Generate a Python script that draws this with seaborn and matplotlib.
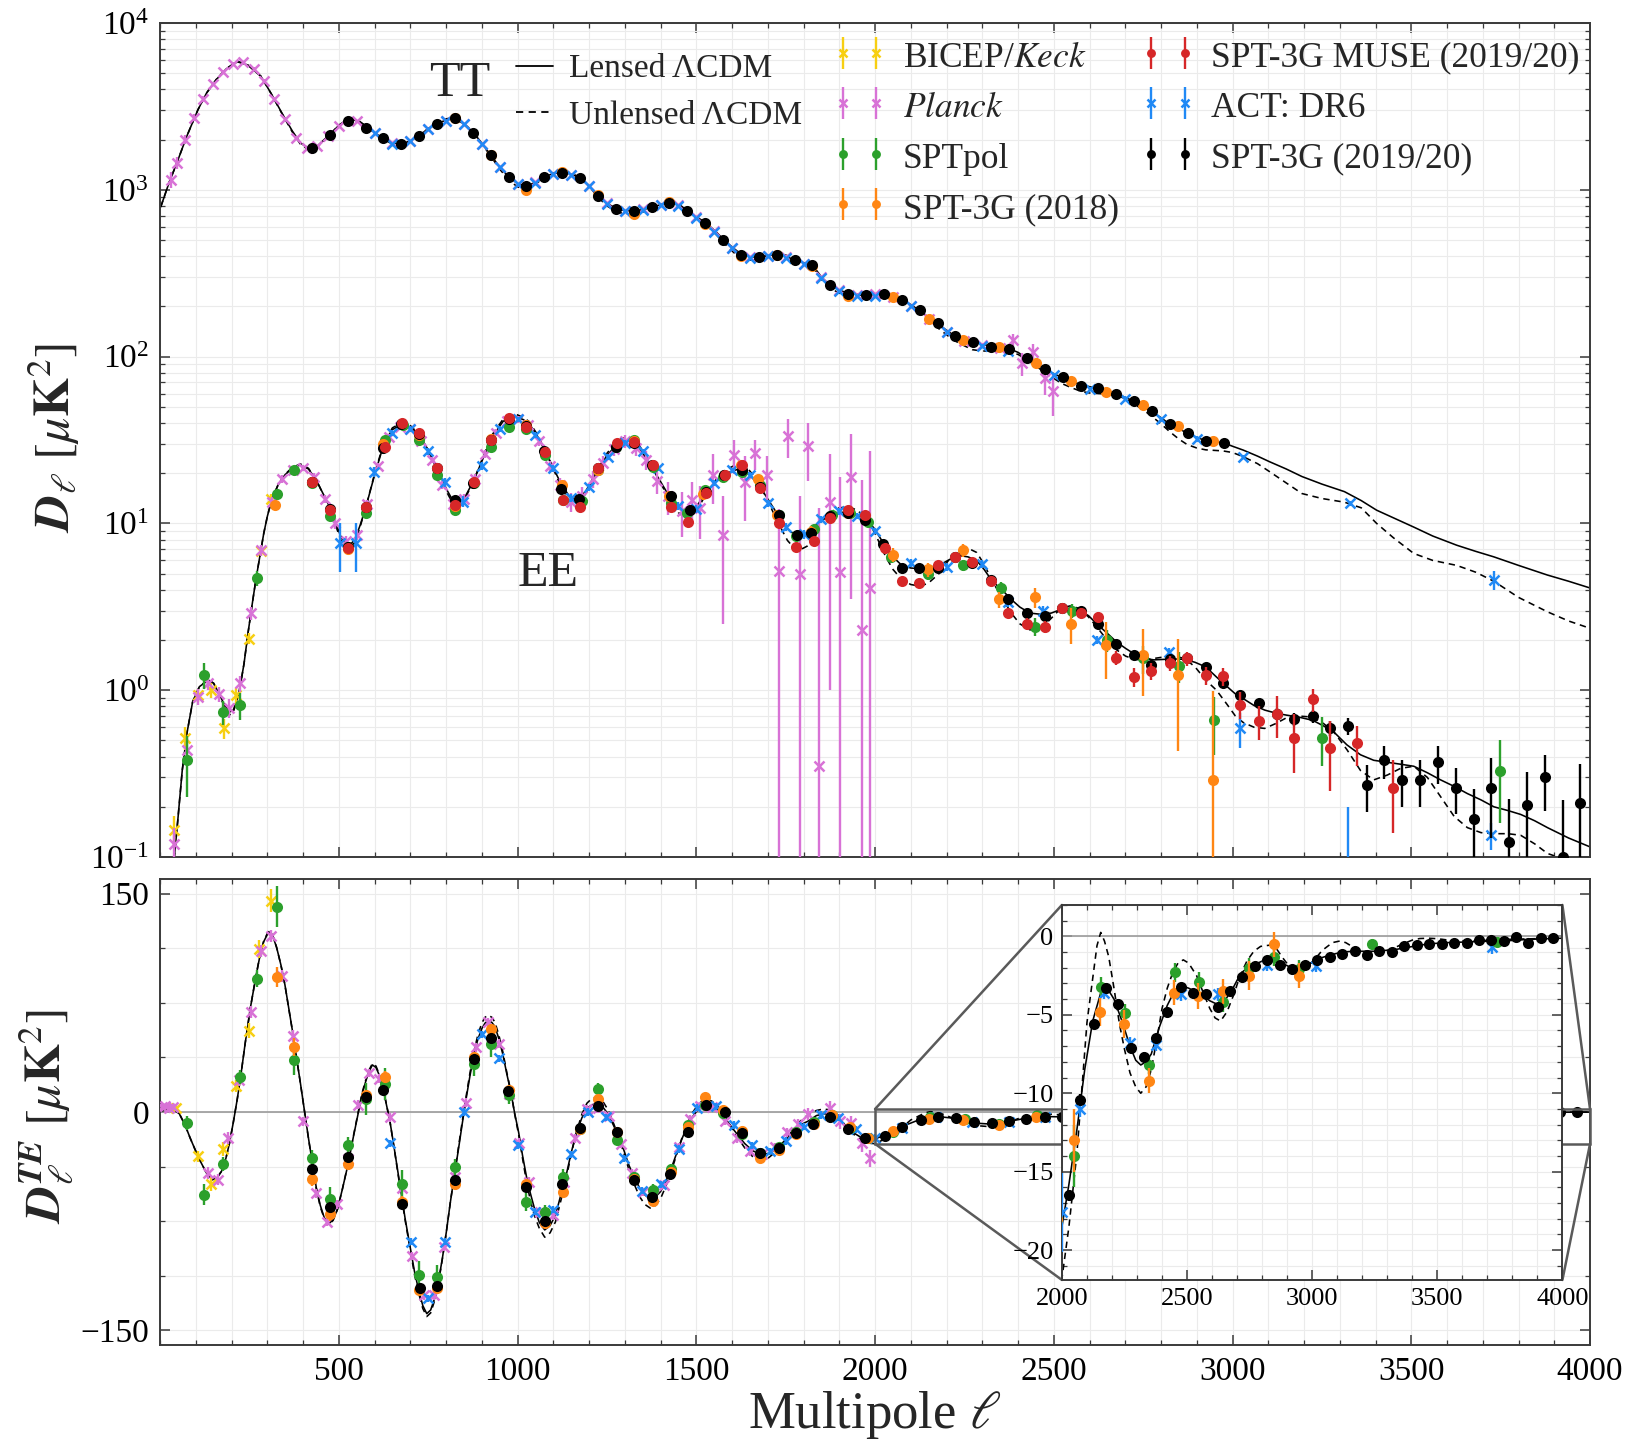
import matplotlib
matplotlib.use("Agg")
import matplotlib.pyplot as plt
import seaborn as sns
from matplotlib.lines import Line2D
from matplotlib.patches import Rectangle, ConnectionPatch
from matplotlib.ticker import MultipleLocator, LogLocator, NullFormatter, FixedLocator
from matplotlib.legend_handler import HandlerErrorbar
from matplotlib.container import ErrorbarContainer

# ---------------------------------------------------------------- theory: TT
tt_ell = [2, 25, 47, 75, 106, 130, 157, 185, 216, 245,
          282, 310, 341, 370, 393, 415, 440, 474, 500, 529,
          555, 576, 600, 628, 650, 672, 700, 724, 750, 775,
          800, 819, 845, 878, 900, 925, 950, 976, 1000, 1025,
          1050, 1076, 1100, 1128, 1150, 1176, 1200, 1226, 1250, 1279,
          1300, 1326, 1350, 1378, 1400, 1429, 1450, 1476, 1500, 1528,
          1555, 1579, 1605, 1628, 1655, 1679, 1705, 1731, 1755, 1779,
          1800, 1826, 1850, 1873, 1900, 1925, 1950, 1973, 2000, 2022,
          2050, 2075, 2100, 2122, 2150, 2173, 2200, 2224, 2250, 2272,
          2300, 2324, 2350, 2373, 2400, 2424, 2450, 2475, 2500, 2522,
          2550, 2575, 2600, 2624, 2650, 2675, 2700, 2724, 2750, 2773,
          2800, 2824, 2850, 2873, 2900, 2925, 2950, 2973, 3000, 3030,
          3070, 3104, 3150, 3194, 3250, 3313, 3360, 3403, 3450, 3507,
          3560, 3627, 3680, 3731, 3800, 3881, 3940, 4000]
tt_lensed = [790, 1100, 1450, 2100, 3020, 3800, 4570, 5300, 5850, 5600,
             4790, 3800, 2880, 2250, 1905, 1780, 1830, 2140, 2430, 2650,
             2580, 2400, 2200, 2010, 1910, 1880, 1960, 2110, 2320, 2490,
             2620, 2660, 2520, 2190, 1900, 1615, 1370, 1190, 1090, 1050,
             1110, 1200, 1250, 1270, 1240, 1175, 1060, 920, 830, 766,
             750, 748, 760, 787, 815, 835, 810, 741, 690, 631,
             560, 497, 445, 407, 395, 398, 405, 407, 395, 377,
             365, 352, 300, 269, 250, 240, 236, 234, 235, 237,
             232, 221, 205, 190, 172, 158, 144, 132, 127, 123,
             119, 115, 113, 112, 106, 98, 91, 84, 79, 75,
             71, 68, 66, 64, 62, 60, 57, 54, 50, 47,
             43, 39.4, 37, 34.7, 32.8, 31.3, 30.8, 30.5, 29, 27.5,
             25.3, 23.4, 21.2, 19.1, 17.2, 15.5, 13.7, 12.0, 10.8, 9.5,
             8.4, 7.4, 6.8, 6.3, 5.6, 4.9, 4.5, 4.1]
tt_unlensed = [790, 1100, 1450, 2100, 3020, 3800, 4580, 5320, 5900, 5620,
               4800, 3790, 2860, 2220, 1870, 1740, 1800, 2130, 2440, 2680,
               2600, 2410, 2190, 1990, 1880, 1840, 1930, 2100, 2330, 2520,
               2660, 2710, 2560, 2200, 1890, 1590, 1330, 1140, 1040, 1010,
               1080, 1190, 1260, 1295, 1260, 1180, 1050, 900, 800, 735,
               718, 718, 735, 775, 815, 850, 825, 745, 680, 615,
               540, 475, 420, 385, 378, 388, 405, 415, 403, 382,
               365, 345, 290, 258, 240, 232, 232, 236, 240, 243,
               236, 222, 202, 184, 165, 150, 135, 124, 116, 110,
               108, 108, 108, 107, 103, 96, 88, 80, 74, 69,
               65, 62, 60.5, 60, 59.5, 58.5, 56, 52, 48, 44,
               39.5, 35.5, 32, 29.7, 28.3, 27.6, 27.4, 27.2, 26.6, 25.1,
               22.8, 20.4, 17.5, 15.1, 14.1, 13.4, 12.4, 10.0, 8.2, 6.6,
               6.0, 5.6, 5.1, 4.5, 3.6, 2.95, 2.6, 2.35]

# ---------------------------------------------------------------- theory: EE
ee_ell = [30, 40, 50, 62, 75, 91, 110, 135, 150, 165, 180,
          194, 205, 215, 224, 235, 246, 257, 268, 280, 290,
          300, 312, 330, 349, 370, 393, 415, 437, 455, 474,
          490, 505, 525, 545, 560, 576, 600, 628, 650, 679,
          700, 724, 750, 775, 800, 826, 850, 878, 900, 929,
          960, 996, 1015, 1032, 1055, 1076, 1100, 1121, 1145, 1165,
          1190, 1224, 1250, 1268, 1290, 1312, 1340, 1371, 1400, 1422,
          1450, 1474, 1500, 1532, 1570, 1613, 1645, 1672, 1700, 1731,
          1755, 1782, 1810, 1851, 1890, 1925, 1950, 1978, 2000, 2030,
          2050, 2075, 2100, 2127, 2150, 2179, 2210, 2239, 2260, 2284,
          2305, 2328, 2355, 2381, 2405, 2433, 2465, 2493, 2520, 2545,
          2570, 2597, 2620, 2649, 2675, 2701, 2727, 2754, 2780, 2806,
          2836, 2866, 2895, 2925, 2955, 2985, 3008, 3030, 3060, 3090,
          3120, 3149, 3185, 3224, 3255, 3284, 3320, 3358, 3395, 3433,
          3470, 3507, 3545, 3582, 3620, 3657, 3695, 3731, 3770, 3806,
          3845, 3881, 3940, 4000]
ee_lensed = [0.045, 0.1, 0.17, 0.33, 0.55, 0.85, 1.05, 1.15, 1.1, 0.95, 0.82,
             0.74, 0.76, 0.88, 1.05, 1.45, 2.2, 3.2, 4.6, 6.5, 8.7,
             11.0, 13.8, 17.0, 19.5, 21.5, 22.4, 21.2, 18.2, 15.2, 12.6,
             10.2, 8.4, 7.2, 8.0, 9.8, 12.6, 19.5, 30.9, 36.5, 39.5,
             37.8, 33.9, 27.5, 21.4, 16.2, 12.9, 14.0, 18.2, 23.5, 33,
             41, 43.5, 42, 39.8, 33.5, 27.5, 21.5, 17.4, 14.5, 13.8,
             15.5, 20.9, 25.5, 28.2, 30.8, 31.6, 28.5, 22.4, 17.8, 14.8,
             12.6, 11.7, 12.6, 15.8, 19.5, 21.0, 19.8, 17.4, 14.0, 11.0,
             9.3, 8.3, 8.6, 10.7, 11.6, 11.7, 11.3, 10.5, 9.2, 7.2,
             6.3, 5.6, 5.4, 5.35, 5.45, 5.6, 6.1, 6.4, 6.3, 6.0,
             5.3, 4.5, 4.0, 3.5, 3.15, 2.9, 2.85, 2.9, 3.05, 3.1,
             3.0, 2.8, 2.5, 2.2, 1.95, 1.78, 1.64, 1.55, 1.52, 1.53,
             1.54, 1.53, 1.47, 1.38, 1.2, 1.05, 0.95, 0.89, 0.81, 0.76,
             0.73, 0.71, 0.69, 0.66, 0.61, 0.56, 0.47, 0.41, 0.38, 0.37,
             0.36, 0.35, 0.32, 0.29, 0.265, 0.24, 0.22, 0.20, 0.19, 0.18,
             0.165, 0.15, 0.13, 0.115]
ee_unlensed = [0.045, 0.1, 0.17, 0.33, 0.55, 0.85, 1.05, 1.16, 1.1, 0.94, 0.8,
               0.71, 0.74, 0.87, 1.05, 1.45, 2.2, 3.2, 4.6, 6.5, 8.7,
               11.0, 13.8, 17.0, 19.6, 21.7, 22.7, 21.4, 18.2, 15.1, 12.4,
               9.9, 8.0, 6.9, 7.7, 9.6, 12.6, 19.8, 31.5, 37.4, 40.5,
               38.6, 34.3, 27.5, 21.0, 15.7, 12.3, 13.6, 18.2, 24, 34,
               42.3, 45, 43.4, 40.8, 34.2, 27.6, 21.2, 16.7, 13.6, 13.0,
               15.0, 21.0, 26.3, 29.3, 32.2, 33, 29.5, 22.8, 17.5, 14.2,
               11.6, 10.6, 11.8, 15.6, 20.3, 22.6, 21.2, 18.0, 13.6, 9.9,
               7.9, 6.8, 7.3, 10.3, 12.3, 12.6, 12.0, 10.6, 8.7, 6.3,
               5.3, 4.6, 4.3, 4.2, 4.4, 5.0, 6.2, 7.0, 7.1, 6.7,
               5.7, 4.5, 3.6, 2.9, 2.5, 2.3, 2.35, 2.7, 3.1, 3.2,
               3.1, 2.75, 2.4, 2.0, 1.75, 1.6, 1.53, 1.52, 1.55, 1.58,
               1.6, 1.55, 1.38, 1.15, 1.0, 0.82, 0.7, 0.64, 0.6, 0.59,
               0.63, 0.68, 0.7, 0.69, 0.63, 0.56, 0.44, 0.33, 0.29, 0.31,
               0.34, 0.35, 0.3, 0.23, 0.175, 0.15, 0.14, 0.138, 0.138, 0.135,
               0.12, 0.105, 0.095, 0.09]

# ---------------------------------------------------------------- theory: TE
te_ell = [2, 15, 32, 54, 70, 84, 100, 113, 130, 147,
          160, 172, 184, 194, 205, 216, 227, 238, 253, 268,
          280, 290, 304, 315, 326, 338, 349, 360, 371, 382,
          393, 404, 415, 426, 437, 448, 459, 471, 484, 496,
          510, 525, 540, 554, 565, 576, 585, 594, 604, 613,
          628, 643, 657, 672, 686, 701, 712, 724, 735, 746,
          757, 768, 779, 790, 801, 812, 823, 834, 845, 856,
          867, 878, 889, 900, 909, 918, 928, 937, 948, 959,
          970, 981, 992, 1003, 1014, 1025, 1036, 1047, 1061, 1076,
          1091, 1106, 1120, 1135, 1150, 1165, 1180, 1194, 1209, 1224,
          1238, 1253, 1268, 1282, 1297, 1312, 1327, 1341, 1356, 1371,
          1385, 1400, 1414, 1429, 1444, 1459, 1474, 1488, 1506, 1525,
          1543, 1562, 1580, 1598, 1617, 1635, 1657, 1679, 1702, 1724,
          1746, 1768, 1790, 1812, 1836, 1855, 1873, 1896, 1918, 1941,
          1963, 1985, 2000, 2028, 2060, 2091, 2123, 2155, 2177, 2208,
          2240, 2272, 2295, 2315, 2336, 2357, 2389, 2421, 2443, 2464,
          2485, 2506, 2530, 2560, 2590, 2623, 2650, 2677, 2700, 2719,
          2750, 2783, 2826, 2850, 2879, 2910, 2943, 2970, 2996, 3030,
          3070, 3120, 3166, 3210, 3251, 3290, 3336, 3400, 3464, 3540,
          3613, 3690, 3762, 3840, 3920, 4000]
te_lensed = [0.5, 1.5, 2.5, -1.3, -9, -17.8, -27, -34, -42, -46.5,
             -45, -40.7, -32, -21.6, -7, 8.9, 27, 47, 72, 92.8,
             108, 117, 123.8, 121, 113, 101, 87.7, 71, 54.7, 37,
             19.1, 0.5, -17.8, -35, -52, -64, -72.4, -77, -74, -67,
             -53, -36.9, -18, -1.3, 12, 21.6, 28, 32.3, 30.5, 25.4,
             11, -6.4, -28, -52, -74, -95, -110, -123, -133, -138.5,
             -136, -128, -116, -100, -82, -62, -44, -26.7, -8.5, 8.9,
             25, 39.4, 50, 57.2, 61, 62.8, 61.5, 58.5, 50, 39.4,
             26, 14, -1, -14, -30, -44.5, -56, -66, -76, -81,
             -78, -71, -58, -44.5, -28, -14, -4, 2.5, 5, 5.8,
             3.5, -1.3, -9, -16.5, -26, -36.9, -45, -52, -57, -59.7,
             -58.5, -54.7, -48, -39.4, -29, -19, -10, -3.8, 2, 5.1,
             4, 1.3, -4, -10.2, -16, -21.6, -26.5, -29.2, -28.5, -25.4,
             -20, -14, -9, -6.4, -2.5, -1.3, -1.3, -4.5, -10, -14.5,
             -17.8, -18.8, -18.5, -15.8, -12.3, -8.5, -5.4, -3.6, -3.2, -4.0,
             -5.4, -7.0, -7.9, -8.2, -8.0, -7.5, -5.8, -4.4, -3.7, -3.3,
             -3.2, -3.3, -3.5, -3.7, -4.1, -4.35, -4.1, -3.5, -2.8, -2.3,
             -1.9, -1.7, -1.4, -1.45, -1.7, -1.95, -2.0, -1.9, -1.7, -1.4,
             -1.2, -1.0, -0.95, -0.95, -0.95, -0.9, -0.83, -0.65, -0.48, -0.4,
             -0.36, -0.32, -0.3, -0.22, -0.16, -0.12]
te_ell_unl = [2, 15, 32, 54, 70, 84, 100, 113, 130, 147,
              160, 172, 184, 194, 205, 216, 227, 238, 253, 268,
              280, 290, 304, 315, 326, 338, 349, 360, 371, 382,
              393, 404, 415, 426, 437, 448, 459, 471, 484, 496,
              510, 525, 540, 554, 565, 576, 585, 594, 604, 613,
              628, 643, 657, 672, 686, 701, 712, 724, 735, 746,
              757, 768, 779, 790, 801, 812, 823, 834, 845, 856,
              867, 878, 889, 900, 909, 918, 928, 937, 948, 959,
              970, 981, 992, 1003, 1014, 1025, 1036, 1047, 1061, 1076,
              1091, 1106, 1120, 1135, 1150, 1165, 1180, 1194, 1209, 1224,
              1238, 1253, 1268, 1282, 1297, 1312, 1327, 1341, 1356, 1371,
              1385, 1400, 1414, 1429, 1444, 1459, 1474, 1488, 1506, 1525,
              1543, 1562, 1580, 1598, 1617, 1635, 1657, 1679, 1702, 1724,
              1746, 1768, 1790, 1812, 1836, 1855, 1873, 1896, 1918, 1941,
              1963, 1985, 2000, 2028, 2060, 2081, 2100, 2123, 2140, 2155,
              2170, 2187, 2208, 2230, 2250, 2272, 2295, 2315, 2336, 2357,
              2380, 2400, 2421, 2443, 2464, 2485, 2506, 2538, 2565, 2591,
              2612, 2634, 2660, 2687, 2712, 2740, 2767, 2794, 2836, 2860,
              2879, 2910, 2943, 2975, 3006, 3040, 3081, 3110, 3134, 3160,
              3187, 3220, 3251, 3283, 3315, 3360, 3400, 3430, 3464, 3500,
              3550, 3613, 3690, 3762, 3840, 3920, 4000]
te_unlensed = [0.5, 1.5, 2.5, -1.3, -9, -17.8, -27, -34, -42, -46.5,
               -45, -40.7, -32, -21.6, -7, 8.9, 27, 47, 72, 93,
               108.5, 117.5, 124.5, 121.5, 113, 101, 87.5, 71, 54.5, 37,
               19, 0.3, -18, -35.5, -52.5, -65, -73, -77.5, -74.5, -67,
               -53, -36.5, -17.5, -0.5, 13, 22.5, 29, 33.3, 31.5, 26,
               11.5, -6.5, -28.5, -53, -75, -96.5, -112, -125, -135, -140.5,
               -138, -129.5, -117, -100.5, -82, -62, -43.5, -25.5, -7, 10.5,
               27, 41.5, 53, 61, 65, 66.5, 65, 61.5, 52.5, 41,
               27, 14.5, -1.5, -15.5, -32, -48, -61, -71, -80, -86,
               -83, -75.5, -62, -47, -29, -13.5, -1.5, 6, 9.5, 10,
               7.5, 1.5, -7.5, -16.5, -28, -40, -50, -58, -63.5, -66,
               -64.5, -59.5, -51.5, -41.5, -30, -18.5, -8, -1, 5.5, 9,
               7.5, 3.5, -3, -10.5, -18, -24.5, -30.5, -33, -31.5, -27,
               -20.5, -13, -6.5, -2, 1, 2, 1.5, -3, -9.5, -15.5,
               -19.5, -21.5, -21.8, -18.5, -13.8, -9.4, -5.5, -2.7, -0.6, 0.25,
               -0.3, -1.3, -3.3, -5.6, -7.2, -8.7, -9.6, -10, -9.6, -8.5,
               -6.5, -4.6, -3.3, -2.3, -1.7, -1.5, -1.7, -2.5, -3.6, -4.6,
               -5.2, -5.4, -4.8, -3.7, -2.5, -1.55, -0.95, -0.64, -0.55, -0.85,
               -1.3, -1.95, -2.26, -1.95, -1.55, -0.9, -0.4, -0.3, -0.4, -0.65,
               -0.83, -1.0, -1.07, -1.0, -0.83, -0.5, -0.24, -0.14, -0.12, -0.15,
               -0.25, -0.3, -0.26, -0.2, -0.17, -0.14, -0.12]

# ---------------------------------------------------------------- bandpowers: TT
tt_planck_ell = [30, 48, 70, 95, 120, 147, 175, 203, 232, 262,
                 290, 320, 350, 380, 410, 440, 470, 500, 550, 600,
                 650, 700, 750, 800, 850, 900, 950, 1000, 1050, 1100,
                 1150, 1200, 1250, 1300, 1350, 1400, 1450, 1500, 1550, 1600,
                 1650, 1700, 1750, 1800, 1850, 1900, 1950, 2000, 2050, 2100,
                 2150, 2200, 2250, 2300, 2350, 2385, 2410, 2443, 2475, 2497]
tt_planck_dl = [1150, 1450, 2000, 2700, 3500, 4300, 5100, 5700, 5800, 5300,
                4500, 3500, 2650, 2050, 1780, 1820, 2100, 2420, 2600, 2180,
                1900, 1950, 2300, 2600, 2480, 1880, 1370, 1080, 1110, 1240,
                1230, 1050, 830, 745, 765, 815, 805, 685, 565, 450,
                395, 400, 398, 360, 300, 250, 234, 236, 228, 200,
                168, 140, 124, 118, 112, 126, 91, 107, 74, 62]
tt_planck_err = [120, 120, 120, 130, 130, 140, 140, 140, 140, 130,
                 110, 90, 60, 40, 30, 30, 30, 30, 30, 25,
                 25, 25, 25, 25, 25, 20, 20, 15, 15, 15,
                 15, 12, 10, 10, 10, 10, 10, 9, 8, 7,
                 6, 6, 6, 6, 5, 5, 4, 4, 4, 4,
                 3, 3, 3, 3, 4, 10, 14, 12, 15, 18]

tt_act_ell = [600, 650, 700, 750, 800, 850, 900, 950, 1000, 1050,
              1100, 1150, 1200, 1250, 1300, 1350, 1400, 1450, 1500, 1550,
              1600, 1650, 1700, 1750, 1800, 1850, 1900, 1950, 2000, 2100,
              2200, 2300, 2373, 2500, 2600, 2700, 2800, 2900, 3030, 3328, 3731]
tt_act_dl = [2180, 1890, 1960, 2300, 2600, 2470, 1880, 1360, 1080, 1100,
             1240, 1230, 1050, 825, 745, 760, 810, 800, 680, 560,
             445, 392, 400, 392, 360, 295, 247, 232, 232, 202,
             140, 116, 108, 78, 64, 56, 42, 32, 25, 13.2, 4.6]
tt_act_err = [25, 25, 25, 25, 25, 25, 20, 15, 12, 12,
              12, 12, 10, 8, 8, 8, 8, 8, 7, 6,
              5, 4, 4, 4, 4, 3, 3, 3, 3, 3,
              3, 3, 3, 2, 2, 2, 1.5, 1.2, 0.6, 0.5, 0.6]

tt_spt3g_ell = [425, 475, 525, 575, 625, 675, 725, 775, 825, 875,
                925, 975, 1025, 1075, 1125, 1175, 1225, 1275, 1325, 1375,
                1425, 1475, 1525, 1575, 1625, 1675, 1725, 1775, 1825, 1875,
                1925, 1975, 2025, 2075, 2125, 2175, 2225, 2275, 2325, 2375,
                2425, 2475, 2525, 2575, 2625, 2675, 2725, 2775, 2825, 2875,
                2925, 2975]
tt_spt3g_dl = [1780, 2120, 2600, 2340, 2040, 1890, 2090, 2490, 2680, 2190,
               1615, 1200, 1060, 1200, 1260, 1175, 920, 766, 748, 787,
               830, 745, 631, 497, 407, 398, 407, 377, 352, 269,
               238, 233, 236, 217, 190, 158, 132, 123, 114, 111,
               98, 84, 75, 67, 65, 60, 54, 47, 39.4, 34.7,
               31.3, 30.5]
tt_spt3g_err = [20, 20, 20, 20, 20, 20, 20, 20, 20, 20,
                15, 12, 10, 10, 10, 10, 8, 7, 7, 7,
                7, 6, 5, 4, 4, 4, 4, 3, 3, 3,
                2, 2, 2, 2, 2, 2, 1.5, 1.5, 1.5, 1.5,
                1.2, 1.0, 1.0, 0.9, 0.9, 0.8, 0.8, 0.7, 0.6, 0.6,
                0.6, 0.6]

tt_spt18_ell = [825, 925, 1025, 1125, 1225, 1325, 1425, 1525, 1625, 1725,
                1825, 1925, 2050, 2150, 2246, 2348, 2451, 2549, 2646, 2749,
                2848, 2945]
tt_spt18_dl = [2700, 1620, 1000, 1280, 930, 720, 850, 620, 400, 405,
               350, 232, 228, 168, 125, 114, 92, 71, 61, 51,
               38.5, 31]
tt_spt18_err = [30, 20, 15, 15, 12, 10, 10, 8, 6, 6,
                5, 4, 3, 3, 2, 2, 1.5, 1.2, 1, 1,
                0.8, 0.7]

# ---------------------------------------------------------------- bandpowers: EE
ee_bk_ell = [40, 69, 106, 143, 179, 212, 249, 282, 309]
ee_bk_dl = [0.145, 0.52, 0.93, 1.0, 0.59, 0.93, 2.04, 6.8, 14.1]
ee_bk_err = [0.03, 0.08, 0.08, 0.1, 0.08, 0.1, 0.15, 0.4, 1.0]

ee_planck_ell = [40, 74, 106, 135, 165, 194, 224, 253, 282, 312,
                 341, 371, 400, 430, 460, 490, 520, 550, 580, 610,
                 640, 670, 700, 730, 760, 790, 820, 850, 880, 910,
                 940, 970, 1000, 1030, 1060, 1090, 1120, 1150, 1180, 1210,
                 1240, 1270, 1300, 1330, 1360, 1390, 1420, 1459, 1488, 1510,
                 1547, 1576, 1606, 1635, 1665, 1697, 1731, 1756, 1790, 1813,
                 1843, 1873, 1903, 1933, 1963, 1985]
ee_planck_dl = [0.12, 0.44, 0.91, 1.1, 0.95, 0.78, 1.1, 2.9, 6.9, 13.5,
                18.5, 21, 21.5, 19, 14, 10, 7.8, 8.5, 13, 22,
                33, 38, 37, 31, 24, 17, 13, 14, 18.5, 26,
                35, 41, 42, 39, 31, 22, 17, 13.5, 14.5, 18.5,
                23, 28, 31, 28.5, 24, 18, 14.5, 11.9, 13.8, 12.4,
                19.5, 8.5, 25.7, 17.8, 26.3, 19.5, 5.2, 33.5, 5.0, 29,
                0.35, 13.5, 5.1, 19, 2.3, 4.1]
ee_planck_err = [0.03, 0.08, 0.1, 0.1, 0.1, 0.1, 0.12, 0.25, 0.5, 0.8,
                 1.0, 1.0, 1.0, 1.0, 0.8, 0.7, 0.6, 0.6, 0.8, 1.0,
                 1.2, 1.2, 1.2, 1.2, 1.0, 1.0, 0.9, 1.0, 1.2, 1.5,
                 1.8, 2.0, 2.0, 2.0, 2.0, 1.8, 1.8, 1.8, 2.0, 2.2,
                 2.4, 2.6, 2.8, 3.0, 3.0, 3.0, 3.2, 3.6, 3.9, 4.3,
                 6.5, 6.0, 6.0, 7.5, 5.5, 5.7, 7.0, 9.0, 9.5, 11,
                 12, 12.5, 14, 15.5, 16, 23]

ee_sptpol_ell = [74, 124, 176, 224, 272, 326, 375, 425, 476, 525,
                 576, 628, 679, 724, 775, 826, 878, 925, 976, 1025,
                 1076, 1128, 1179, 1224, 1275, 1326, 1378, 1429, 1474, 1525,
                 1576, 1628, 1679, 1731, 1779, 1830, 1880, 1930, 1980, 2045,
                 2149, 2246, 2351, 2448, 2552, 2649, 2749, 2851, 2948, 3251,
                 3749]
ee_sptpol_dl = [0.38, 1.23, 0.74, 0.81, 4.7, 15.1, 20.9, 17.4, 11, 7.2,
                11.5, 31.6, 38.9, 31.6, 19.5, 12, 17.4, 28.8, 38, 37,
                25.7, 13.8, 13.6, 20.9, 28.8, 31.6, 21.9, 13.2, 11.5, 15.8,
                19.1, 20.4, 17, 11.2, 8.4, 9.2, 11.3, 11.6, 10.2, 6.3,
                5.0, 5.6, 4.1, 2.4, 3.0, 2.0, 1.55, 1.4, 0.66, 0.52,
                0.33]
ee_sptpol_err = [0.15, 0.22, 0.12, 0.15, 0.5, 1.0, 1.0, 0.8, 0.6, 0.5,
                 0.6, 1.0, 1.2, 1.0, 0.8, 0.6, 0.7, 1.0, 1.2, 1.2,
                 1.0, 0.7, 0.7, 0.8, 1.0, 1.1, 0.9, 0.7, 0.6, 0.7,
                 0.8, 0.9, 0.8, 0.6, 0.5, 0.5, 0.6, 0.6, 0.6, 0.4,
                 0.4, 0.4, 0.35, 0.3, 0.3, 0.3, 0.3, 0.3, 0.25, 0.17,
                 0.17]

ee_spt18_ell = [322, 425, 525, 625, 725, 825, 925, 1025, 1125, 1225,
                1325, 1425, 1518, 1625, 1672, 1725, 1821, 1925, 2050, 2149,
                2246, 2348, 2448, 2549, 2646, 2749, 2848, 2945]
ee_spt18_dl = [12.9, 17.8, 7.0, 30, 34, 12.8, 32, 39, 17, 21,
               31, 14.5, 15, 22.5, 18.5, 11.2, 8.9, 11.6, 6.5, 5.3,
               6.9, 3.5, 3.6, 2.5, 1.86, 1.62, 1.23, 0.29]
ee_spt18_err = [0.8, 1.0, 0.5, 1.5, 1.5, 0.8, 1.5, 1.8, 1.0, 1.1,
                1.5, 0.9, 0.9, 1.2, 1.1, 0.8, 0.7, 0.8, 0.6, 0.5,
                0.6, 0.4, 0.5, 0.6, 0.7, 0.7, 0.8, 0.7]

ee_muse_ell = [425, 474, 525, 576, 628, 676, 724, 775, 826, 878,
               925, 976, 1025, 1076, 1128, 1176, 1226, 1279, 1326, 1378,
               1429, 1476, 1528, 1579, 1628, 1679, 1731, 1779, 1830, 1873,
               1925, 1973, 2027, 2075, 2122, 2176, 2224, 2272, 2325, 2373,
               2424, 2475, 2522, 2575, 2624, 2675, 2724, 2773, 2824, 2873,
               2925, 2973, 3022, 3075, 3124, 3173, 3224, 3273, 3348, 3448]
ee_muse_dl = [17.8, 12.0, 7.1, 12.6, 28.8, 39.8, 34.7, 21.4, 12.9, 17.8,
              31.6, 42.7, 38.0, 26.9, 13.8, 12.6, 21.4, 30.2, 30.9, 22.4,
              12.6, 10.2, 15.3, 19.5, 22.4, 16.2, 10.0, 7.2, 7.8, 10.7,
              12.1, 11.2, 7.1, 4.5, 4.4, 5.6, 6.3, 5.9, 4.5, 2.9,
              2.5, 2.4, 3.1, 2.9, 2.75, 1.57, 1.2, 1.3, 1.45, 1.55,
              1.23, 1.21, 0.82, 0.65, 0.72, 0.52, 0.88, 0.45, 0.48, 0.26]
ee_muse_err = [0.8, 0.5, 0.3, 0.5, 1.0, 1.2, 1.1, 0.7, 0.5, 0.6,
               1.0, 1.3, 1.2, 0.9, 0.5, 0.5, 0.7, 1.0, 1.0, 0.8,
               0.5, 0.4, 0.6, 0.7, 0.8, 0.6, 0.4, 0.3, 0.3, 0.4,
               0.5, 0.4, 0.3, 0.25, 0.25, 0.3, 0.3, 0.3, 0.25, 0.2,
               0.2, 0.2, 0.2, 0.2, 0.2, 0.15, 0.15, 0.15, 0.15, 0.15,
               0.15, 0.15, 0.15, 0.15, 0.2, 0.2, 0.14, 0.2, 0.13, 0.12]

ee_act_ell = [503, 547, 598, 650, 700, 750, 797, 848, 900, 950,
              1000, 1050, 1098, 1150, 1200, 1253, 1300, 1350, 1393, 1450,
              1500, 1550, 1600, 1650, 1701, 1750, 1800, 1850, 1900, 1950,
              2000, 2100, 2200, 2300, 2373, 2470, 2621, 2821, 3022, 3324,
              3724]
ee_act_dl = [7.6, 7.6, 20.4, 35, 37, 27, 17.6, 13.5, 22, 37,
             42, 34, 21.4, 14.2, 16.5, 25.1, 30.5, 27, 21.4, 12.8,
             12.2, 17.5, 20.8, 19.5, 13.2, 9.5, 8.6, 10.6, 11.8, 11.1,
             9, 5.8, 5.5, 5.7, 3.4, 3.0, 2.0, 1.7, 0.59, 0.05,
             0.135]
ee_act_err = [2.5, 2.5, 1.5, 1.5, 1.5, 1.2, 1.0, 1.0, 1.2, 1.5,
              1.5, 1.3, 1.0, 0.8, 0.8, 1.0, 1.1, 1.0, 0.9, 0.7,
              0.7, 0.8, 0.8, 0.8, 0.6, 0.5, 0.5, 0.5, 0.5, 0.5,
              0.4, 0.3, 0.3, 0.3, 0.25, 0.2, 0.1, 0.1, 0.14, 0.15,
              0.025]

ee_spt3g_ell = [425, 475, 525, 575, 625, 675, 725, 775, 826, 875,
                925, 975, 1025, 1075, 1121, 1172, 1224, 1275, 1326, 1375,
                1429, 1481, 1528, 1577, 1628, 1678, 1731, 1782, 1821, 1873,
                1925, 1973, 2022, 2075, 2122, 2176, 2224, 2272, 2325, 2373,
                2424, 2475, 2522, 2575, 2624, 2675, 2724, 2773, 2824, 2873,
                2925, 2973, 3022, 3075, 3124, 3173, 3224, 3273, 3323, 3376,
                3425, 3474, 3525, 3575, 3624, 3675, 3724, 3773, 3824, 3874,
                3925, 3973]
ee_spt3g_dl = [17.8, 12.2, 7.2, 12.5, 28.5, 39.5, 34.5, 21.5, 13.8, 17.5,
               31.5, 42.5, 38.5, 27, 16.0, 14.1, 21.4, 28.8, 30.5, 22.5,
               14.5, 12.0, 15.5, 19.5, 20.9, 16.5, 11.2, 8.5, 8.7, 11.0,
               11.5, 10.5, 7.5, 5.4, 5.4, 5.4, 6.3, 5.75, 4.57, 3.5,
               2.9, 2.78, 3.1, 3.0, 2.5, 1.89, 1.62, 1.41, 1.53, 1.57,
               1.38, 1.1, 0.93, 0.84, 0.72, 0.67, 0.70, 0.59, 0.61, 0.27,
               0.38, 0.29, 0.29, 0.37, 0.26, 0.17, 0.26, 0.123, 0.204, 0.30,
               0.1, 0.21]
ee_spt3g_err = [0.6, 0.4, 0.3, 0.4, 0.8, 1.0, 0.9, 0.6, 0.4, 0.5,
                0.8, 1.0, 1.0, 0.7, 0.5, 0.4, 0.6, 0.7, 0.8, 0.6,
                0.4, 0.35, 0.4, 0.5, 0.5, 0.4, 0.3, 0.25, 0.25, 0.3,
                0.3, 0.3, 0.2, 0.15, 0.15, 0.15, 0.15, 0.15, 0.12, 0.1,
                0.08, 0.08, 0.08, 0.08, 0.07, 0.06, 0.06, 0.05, 0.05, 0.05,
                0.05, 0.05, 0.05, 0.05, 0.06, 0.06, 0.06, 0.06, 0.07, 0.085,
                0.085, 0.09, 0.09, 0.095, 0.08, 0.085, 0.13, 0.1, 0.12, 0.11,
                0.12, 0.15]

# ---------------------------------------------------------------- bandpowers: TE
te_bk_ell = [44, 106, 143, 176, 212, 249, 278, 309]
te_bk_dl = [2.5, -30.5, -49.6, -25.4, 17.8, 55.9, 111.8, 145]
te_bk_err = [2, 4, 5, 5, 4, 5, 6, 8]

te_planck_ell = [6, 15, 25, 35, 135, 162, 191, 221, 253, 282,
                 309, 341, 371, 400, 437, 466, 496, 525, 554, 584,
                 613, 643, 676, 706, 738, 765, 794, 824, 856, 885,
                 918, 947, 975, 1003, 1032, 1062, 1098, 1130, 1160, 1194,
                 1224, 1255, 1290, 1320, 1350, 1380, 1410, 1451, 1481, 1510,
                 1545, 1580, 1615, 1650, 1685, 1720, 1753, 1785, 1813, 1873,
                 1903, 1933, 1963, 1985]
te_planck_dl = [3.3, 3.8, 2.5, 3.3, -42, -46.5, -17.8, 21.6, 68.6, 110.6,
                120.7, 93.3, 52, -6.4, -56, -75.5, -63.5, -32, 5.1, 26.7,
                22.9, -3.8, -52, -99, -126, -126, -92.8, -44.5, 6.4, 44.5,
                61.8, 47, 12, -21, -48, -68.6, -71, -48, -18, 2,
                2.5, -3, -22, -42, -55, -58, -50, -24, -5, 3.8,
                3.5, -6, -18, -27, -29, -24, -14, -8, -1.3, 2.5,
                -6.4, -7.6, -21.6, -31.8]
te_planck_err = [2, 2, 2, 2, 4, 4, 4, 4, 4, 4,
                 4, 4, 4, 3, 3, 3, 3, 3, 3, 3,
                 3, 3, 3, 3, 3, 3, 3, 3, 3, 3,
                 3, 3, 3, 3, 3, 3, 3, 3, 3, 3,
                 3, 3, 3, 3, 3, 3, 3, 3, 3, 3,
                 3, 3, 3, 3, 3, 3, 3, 3, 4, 5,
                 5, 5, 6, 6]

te_act_ell = [643, 701, 750, 797, 849, 900, 947, 1000, 1050, 1098,
              1150, 1198, 1246, 1297, 1348, 1400, 1451, 1502, 1554, 1606,
              1655, 1705, 1750, 1800, 1848, 1896, 1948, 2000, 2074, 2170,
              2272, 2374, 2474, 2623, 2821, 3017, 3719]
te_act_dl = [-21.6, -89, -128, -89, 0, 53.4, 36.9, -22.9, -68.6, -67,
             -29.2, 0, -3.8, -31.8, -54, -49.6, -25.4, 3, 3.8, -9,
             -23, -27, -20, -10, -2, -4, -12, -17.6, -11, -3.6,
             -6.8, -6.9, -3.7, -3.7, -1.8, -1.9, -0.7]
te_act_err = [2.5, 2.5, 2.5, 2.5, 2.5, 2.5, 2.5, 2.5, 2.5, 2.5,
              2.5, 2.5, 2.5, 2.5, 2.5, 2.5, 2.5, 2.5, 2.5, 2.5,
              2.5, 2.5, 2.5, 2.5, 2.5, 2.5, 2.5, 2.5, 0.5, 0.4,
              0.4, 0.4, 0.4, 0.4, 0.4, 0.4, 0.4]

te_sptpol_ell = [74, 124, 176, 224, 272, 326, 375, 425, 476, 525,
                 576, 628, 676, 724, 775, 826, 878, 925, 976, 1025,
                 1076, 1128, 1176, 1226, 1279, 1326, 1378, 1429, 1476, 1525,
                 1576, 1628, 1679, 1731, 1779, 1830, 1880, 1930, 1980, 2049,
                 2155, 2251, 2347, 2453, 2549, 2645, 2747, 2847, 2947, 3240,
                 3740]
te_sptpol_dl = [-7.6, -56.7, -35.6, 24.1, 91.5, 141, 35.6, -31.8, -59.7, -22.9,
                8.9, 19.1, -49.6, -112, -113, -38, 33, 47, 11.4, -62,
                -68.6, -44.5, -11.4, 16, -19, -45, -53.4, -39.4, -8.9, 5,
                -1, -15, -28, -24, -14, -7, -2, -11, -18, -14,
                -3.2, -4.9, -8.2, -2.3, -2.9, -4.2, -2.0, -1.3, -2.1, -0.5,
                -0.36]
te_sptpol_err = [5, 7.5, 5, 5, 6, 14, 10, 6, 8, 6,
                 11, 11, 10, 9.5, 8, 6, 8, 9, 6, 6,
                 5, 5, 4, 4, 4, 4, 4, 4, 3, 3,
                 3, 3, 3, 3, 3, 3, 3, 3, 3, 2,
                 0.6, 0.6, 0.6, 0.6, 0.6, 0.6, 0.6, 0.6, 0.6, 0.3,
                 0.3]

te_spt18_ell = [326, 375, 425, 476, 525, 576, 628, 676, 724, 775,
                826, 878, 925, 976, 1025, 1076, 1128, 1176, 1226, 1279,
                1326, 1378, 1429, 1476, 1525, 1576, 1628, 1679, 1731, 1779,
                1830, 1880, 1930, 1980, 2050, 2151, 2247, 2347, 2449, 2545,
                2645, 2747, 2847, 2947]
te_spt18_dl = [92.8, 44.5, -45.8, -70, -35.6, 11.4, 24.1, -62, -122, -121,
               -49.6, 37.4, 57.2, 15, -49.6, -76, -54.7, -12, 8.9, -14,
               -46, -61, -41, -10, 10.2, 1, -13, -31.8, -26, -15,
               -8, -2, -10, -18, -13, -4.8, -5.6, -9.2, -3.6, -3.8,
               -3.5, -2.5, -0.5, -2.5]
te_spt18_err = [7, 6, 5, 5, 4, 4, 4, 4, 4, 4,
                3, 3, 3, 3, 3, 3, 3, 3, 3, 3,
                3, 3, 3, 2, 2, 2, 2, 2, 2, 2,
                2, 2, 2, 2, 2, 0.9, 0.9, 0.8, 0.8, 0.85,
                0.8, 0.9, 0.8, 0.8]

te_spt3g_ell = [425, 474, 525, 576, 625, 676, 726, 775, 824, 878,
                925, 974, 1025, 1076, 1125, 1176, 1224, 1279, 1326, 1375,
                1426, 1478, 1528, 1579, 1628, 1679, 1731, 1779, 1826, 1873,
                1925, 1973, 2028, 2074, 2128, 2177, 2226, 2277, 2326, 2374,
                2421, 2474, 2523, 2574, 2623, 2672, 2719, 2772, 2821, 2872,
                2921, 2970, 3021, 3070, 3119, 3170, 3219, 3268, 3319, 3368,
                3417, 3468, 3517, 3566, 3617, 3666, 3715, 3766, 3815, 3864,
                3915, 3964]
te_spt3g_dl = [-39.4, -65.3, -31, 10.2, 15.3, -63.5, -120.7, -119.5, -47, 36.4,
               50.8, 14.7, -51.6, -75, -49.6, -10.9, 3.8, -13.5, -46.5, -58.5,
               -42.7, -13.5, 5.1, 0, -14.5, -28, -24.7, -14.7, -8.4, -3.8,
               -11.4, -17.8, -16.5, -10.4, -5.6, -3.3, -4.3, -7.1, -7.7, -6.5,
               -4.8, -3.2, -3.6, -3.7, -4.5, -3.5, -2.6, -1.9, -1.5, -1.8,
               -2.1, -1.8, -1.5, -1.3, -1.1, -0.95, -1.2, -0.95, -1.0, -0.64,
               -0.55, -0.48, -0.48, -0.4, -0.4, -0.24, -0.24, -0.3, -0.07, -0.4,
               -0.12, -0.12]
te_spt3g_err = [2, 2, 2, 2, 2, 2, 2, 2, 2, 2,
                2, 2, 2, 2, 2, 2, 2, 2, 2, 2,
                2, 2, 2, 2, 2, 2, 2, 2, 2, 2,
                2, 2, 0.35, 0.35, 0.3, 0.3, 0.3, 0.3, 0.3, 0.3,
                0.25, 0.25, 0.25, 0.25, 0.25, 0.25, 0.25, 0.25, 0.25, 0.25,
                0.2, 0.2, 0.2, 0.2, 0.2, 0.2, 0.2, 0.2, 0.2, 0.2,
                0.15, 0.15, 0.15, 0.15, 0.15, 0.15, 0.15, 0.15, 0.15, 0.15,
                0.15, 0.15]

# ---------------------------------------------------------------- experiments
experiments = {
    "bk":     dict(label=r"BICEP/$\mathit{Keck}$", color="#f7cf12", marker="x", z=3.0),
    "planck": dict(label=r"$\mathit{Planck}$", color="#d872d6", marker="x", z=3.1),
    "act":    dict(label="ACT: DR6", color="#2089f5", marker="x", z=3.2),
    "sptpol": dict(label="SPTpol", color="#2ca02c", marker="o", z=3.3),
    "spt18":  dict(label="SPT-3G (2018)", color="#ff8614", marker="o", z=3.4),
    "spt3g":  dict(label="SPT-3G (2019/20)", color="#000000", marker="o", z=3.5),
    "muse":   dict(label="SPT-3G MUSE (2019/20)", color="#d62728", marker="o", z=3.6),
}
legend_order = ["bk", "planck", "sptpol", "spt18", "muse", "act", "spt3g"]

tt_sets = [("planck", tt_planck_ell, tt_planck_dl, tt_planck_err),
           ("act", tt_act_ell, tt_act_dl, tt_act_err),
           ("spt18", tt_spt18_ell, tt_spt18_dl, tt_spt18_err),
           ("spt3g", tt_spt3g_ell, tt_spt3g_dl, tt_spt3g_err)]
ee_sets = [("bk", ee_bk_ell, ee_bk_dl, ee_bk_err),
           ("planck", ee_planck_ell, ee_planck_dl, ee_planck_err),
           ("act", ee_act_ell, ee_act_dl, ee_act_err),
           ("sptpol", ee_sptpol_ell, ee_sptpol_dl, ee_sptpol_err),
           ("spt18", ee_spt18_ell, ee_spt18_dl, ee_spt18_err),
           ("spt3g", ee_spt3g_ell, ee_spt3g_dl, ee_spt3g_err),
           ("muse", ee_muse_ell, ee_muse_dl, ee_muse_err)]
te_sets = [("bk", te_bk_ell, te_bk_dl, te_bk_err),
           ("planck", te_planck_ell, te_planck_dl, te_planck_err),
           ("act", te_act_ell, te_act_dl, te_act_err),
           ("sptpol", te_sptpol_ell, te_sptpol_dl, te_sptpol_err),
           ("spt18", te_spt18_ell, te_spt18_dl, te_spt18_err),
           ("spt3g", te_spt3g_ell, te_spt3g_dl, te_spt3g_err)]

# ---------------------------------------------------------------- style
sns.set_theme(style="ticks")
plt.rcParams.update({
    "font.family": ["Liberation Serif", "DejaVu Serif"],
    "mathtext.fontset": "stix",
    "axes.unicode_minus": True,
    "axes.edgecolor": "#3a3a3a",
    "axes.linewidth": 1.4,
    "xtick.color": "#3a3a3a",
    "ytick.color": "#3a3a3a",
    "xtick.labelcolor": "black",
    "ytick.labelcolor": "black",
})

LINE_KW = dict(color="black", lw=1.15, estimator=None, sort=False, legend=False, zorder=2.5)
DASH = (0, (4, 3))


def draw_points(axis, key, ell, val, err):
    st = experiments[key]
    if st["marker"] == "x":
        mk = dict(ms=7, mew=1.8)
    else:
        mk = dict(ms=8, mew=0)
    return axis.errorbar(ell, val, yerr=err, fmt=st["marker"], color=st["color"],
                         elinewidth=1.7, capsize=0, zorder=st["z"], **mk)


def style_axis(axis, labelsize):
    axis.tick_params(which="both", direction="in", top=True, right=True,
                     labelsize=labelsize)
    axis.tick_params(which="major", length=7, width=1.1, pad=8)
    axis.tick_params(which="minor", length=3.5, width=0.9)
    axis.grid(which="both", color="#ebebeb", lw=0.8)
    axis.set_axisbelow(True)
    for s in axis.spines.values():
        s.set_color("#3a3a3a")
        s.set_linewidth(1.4)


fig = plt.figure(figsize=(16.35, 14.44), dpi=100)
ax = fig.add_axes([0.0979, 0.4065, 0.8746, 0.5776])
ax_te = fig.add_axes([0.0979, 0.0686, 0.8746, 0.3227])

# ---------------------------------------------------------------- TT / EE panel
ax.set_yscale("log")
ax.set_xlim(0, 4000)
ax.set_ylim(0.1, 1e4)

sns.lineplot(x=tt_ell, y=tt_lensed, ax=ax, **LINE_KW)
sns.lineplot(x=tt_ell, y=tt_unlensed, ax=ax, linestyle=DASH, **LINE_KW)
sns.lineplot(x=ee_ell, y=ee_lensed, ax=ax, **LINE_KW)
sns.lineplot(x=ee_ell, y=ee_unlensed, ax=ax, linestyle=DASH, **LINE_KW)

for key, l, v, e in tt_sets:
    draw_points(ax, key, l, v, e)
handles = {}
for key, l, v, e in ee_sets:
    handles[key] = draw_points(ax, key, l, v, e)

style_axis(ax, 24)
ax.xaxis.set_major_locator(FixedLocator([500, 1000, 1500, 2000, 2500, 3000, 3500, 4000]))
ax.xaxis.set_minor_locator(MultipleLocator(100))
ax.tick_params(axis="x", which="both", labelbottom=False)
ax.yaxis.set_major_locator(LogLocator(base=10, numticks=10))
ax.yaxis.set_minor_locator(LogLocator(base=10, subs=(2, 3, 4, 5, 6, 7, 8, 9), numticks=20))
ax.yaxis.set_minor_formatter(NullFormatter())

ax.text(839, 4350, "TT", fontsize=36, ha="center", va="center")
ax.text(1086, 5.0, "EE", fontsize=36, ha="center", va="center")

line_handles = [Line2D([], [], color="black", lw=1.3),
                Line2D([], [], color="black", lw=1.3, linestyle=DASH)]
leg1 = ax.legend(line_handles, ["Lensed ΛCDM", "Unlensed ΛCDM"],
                 loc="upper left", bbox_to_anchor=(0.249, 0.963), fontsize=24,
                 handlelength=1.1, handletextpad=0.5, labelspacing=0.49,
                 borderpad=0, borderaxespad=0, frameon=False)
ax.add_artist(leg1)
ax.legend([handles[k] for k in legend_order], [experiments[k]["label"] for k in legend_order],
          loc="upper left", bbox_to_anchor=(0.47, 0.981), ncol=2, fontsize=25.5,
          numpoints=2, handlelength=1.55, handletextpad=0.45, columnspacing=0.6,
          labelspacing=0.41, handleheight=1.0, borderpad=0, borderaxespad=0,
          frameon=False, markerscale=0.8,
          handler_map={ErrorbarContainer: HandlerErrorbar(yerr_size=0.45, numpoints=2)})

# ---------------------------------------------------------------- TE panel
ax_te.set_xlim(0, 4000)
ax_te.set_ylim(-160, 160)
ax_te.axhline(0, color="#9a9a9a", lw=1.2, zorder=1)
sns.lineplot(x=te_ell, y=te_lensed, ax=ax_te, **LINE_KW)
sns.lineplot(x=te_ell_unl, y=te_unlensed, ax=ax_te, linestyle=DASH, **LINE_KW)
for key, l, v, e in te_sets:
    draw_points(ax_te, key, l, v, e)
style_axis(ax_te, 24)
ax_te.xaxis.set_major_locator(FixedLocator([500, 1000, 1500, 2000, 2500, 3000, 3500, 4000]))
ax_te.xaxis.set_minor_locator(MultipleLocator(100))
ax_te.yaxis.set_major_locator(FixedLocator([-150, 0, 150]))
ax_te.yaxis.set_minor_locator(MultipleLocator(37.5))

# zoom window on the damping tail
y_lo, y_hi = -21.9, 2.0
ax_te.add_patch(Rectangle((2000, y_lo), 2000, y_hi - y_lo, fill=False,
                          ec="#5a5a5a", lw=1.8, zorder=6, clip_on=False))

axins = fig.add_axes([0.6495, 0.1136, 0.3061, 0.2597])
axins.set_zorder(10)
axins.set_facecolor("white")
axins.set_xlim(2000, 4000)
axins.set_ylim(y_lo, y_hi)
axins.axhline(0, color="#9a9a9a", lw=1.2, zorder=1)
sns.lineplot(x=te_ell, y=te_lensed, ax=axins, **LINE_KW)
sns.lineplot(x=te_ell_unl, y=te_unlensed, ax=axins, linestyle=DASH, **LINE_KW)
for key, l, v, e in te_sets:
    draw_points(axins, key, l, v, e)
style_axis(axins, 19)
axins.tick_params(which="major", pad=6)
axins.xaxis.set_major_locator(MultipleLocator(500))
axins.xaxis.set_minor_locator(MultipleLocator(100))
axins.yaxis.set_major_locator(MultipleLocator(5))
axins.yaxis.set_minor_locator(MultipleLocator(1))

for (xa, ya), (xb, yb) in [((2000, y_hi), (0, 1)), ((2000, y_lo), (0, 0)),
                           ((4000, y_hi), (1, 1)), ((4000, y_lo), (1, 0))]:
    con = ConnectionPatch(xyA=(xa, ya), coordsA=ax_te.transData,
                          xyB=(xb, yb), coordsB=axins.transAxes,
                          color="#5a5a5a", lw=1.8, zorder=9)
    fig.add_artist(con)

for a in (ax, ax_te, axins):
    a.set_xlabel("")
    a.set_ylabel("")

# ---------------------------------------------------------------- labels
fig.text(0.033, 0.697, r"$\mathbfit{D}_{\ell}\ [\mu\mathbf{K}^2]$", rotation=90,
         ha="center", va="center", fontsize=36)
fig.text(0.0287, 0.227, r"$\mathbfit{D}_{\ell}^{\mathbfit{TE}}\ [\mu\mathbf{K}^2]$",
         rotation=90, ha="center", va="center", fontsize=36)
fig.text(0.535, 0.02, r"Multipole $\ell$", ha="center", va="center", fontsize=38)

fig.savefig("out.png", dpi=100, facecolor="white")
